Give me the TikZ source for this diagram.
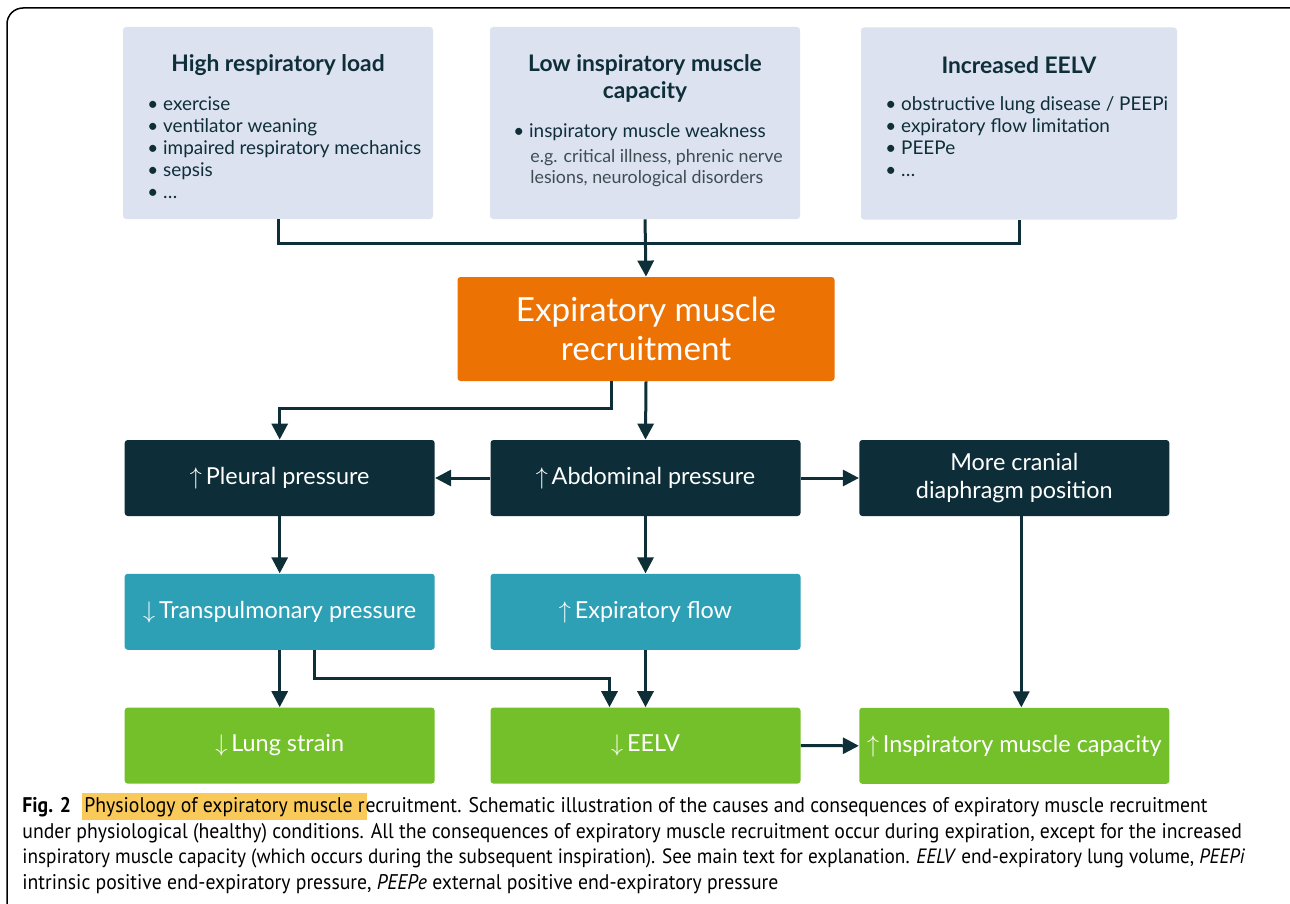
\documentclass[tikz,border=0pt]{standalone}
\usepackage{fontspec}
\setmainfont{Lato}
\newfontfamily\capfont[FakeStretch=0.93]{PT Sans}
\usetikzlibrary{positioning,arrows.meta}
\definecolor{causebg}{HTML}{DCE2F0}
\definecolor{ink}{HTML}{0E2E38}
\definecolor{subink}{HTML}{3E4D54}
\definecolor{emrorange}{HTML}{EC7204}
\definecolor{darkbox}{HTML}{0D2E38}
\definecolor{tealbox}{HTML}{2EA0B6}
\definecolor{greenbox}{HTML}{74C02A}
\definecolor{hlyellow}{HTML}{F9C95A}

\begin{document}
\begin{tikzpicture}[x=0.5pt,y=-0.5pt,
  every node/.style={inner sep=0pt},
  cause/.style={fill=causebg, rounded corners=1.5pt, minimum width=155pt, minimum height=96pt},
  ctitle/.style={text=ink, align=center, font=\fontsize{11.4}{13.5}\selectfont\bfseries},
  clist/.style={text=ink, align=left, anchor=north west, font=\fontsize{9.45}{11}\selectfont},
  csub/.style={text=subink, align=left, anchor=north west, font=\fontsize{8.9}{10.5}\selectfont},
  effect/.style={rounded corners=1.5pt, minimum width=155pt, minimum height=38pt, text=white,
    align=center, font=\fontsize{11.7}{14}\selectfont},
  darkfx/.style={effect, fill=darkbox},
  midfx/.style={effect, fill=tealbox},
  endfx/.style={effect, fill=greenbox},
  link/.style={draw=ink, line width=1.5pt},
  arrow/.style={link, -{Triangle[width=8pt,length=8pt]}},
  captext/.style={anchor=base west, text=black, font=\capfont\fontsize{10.6}{12}\selectfont},
]
\useasboundingbox (0,0) rectangle (1290,904);
\clip (0,0) rectangle (1290,904);
\draw [black, line width=0.75pt, rounded corners=8pt] (7,8) rectangle (1310,918);

\node [cause] (hrl) at (278,123) {};
\node [cause, minimum width=158pt] (eelvup) at (1019,123.5) {};
\node [cause] (lim) at (645,123) {};
\node [ctitle] (hrlt) at (278,65) {High respiratory load};
\node [ctitle] (limt) at (645,78) {Low inspiratory muscle\\capacity};
\node [ctitle] (eelvupt) at (1019,65) {Increased EELV};
\node [clist] (hrll) at (147,96) {\textbullet\ exercise\\\textbullet\ ventilator weaning\\\textbullet\ impaired respiratory mechanics\\\textbullet\ sepsis\\\textbullet\ \dots};
\node [clist] (liml) at (513,123) {\textbullet\ inspiratory muscle weakness};
\node [csub] (limsub) at (530,149) {e.g. critical illness, phrenic nerve\\lesions, neurological disorders};
\node [clist] (eelvupl) at (885,96) {\textbullet\ obstructive lung disease / PEEPi\\\textbullet\ expiratory flow limitation\\\textbullet\ PEEPe\\\textbullet\ \dots};

\node [effect, fill=emrorange, minimum width=188.5pt, minimum height=52pt,
  font=\fontsize{16.6}{19.5}\selectfont] (emr) at (646,329) {Expiratory muscle\\recruitment};

\node [darkfx] (ap) at (645.5,478) {$\uparrow$\,Abdominal pressure};
\node [darkfx, left=27.5pt of ap] (pp) {$\uparrow$\,Pleural pressure};
\node [darkfx, right=29pt of ap] (cdp) {More cranial\\diaphragm position};
\node [midfx, below=28.5pt of pp] (tp) {$\downarrow$\,Transpulmonary pressure};
\node [midfx, below=28.5pt of ap] (ef) {$\uparrow$\,Expiratory flow};
\node [endfx, below=28.5pt of tp] (ls) {$\downarrow$\,Lung strain};
\node [endfx, below=28.5pt of ef] (eelv) {$\downarrow$\,EELV};
\node [endfx, below=95.5pt of cdp] (imc) {$\uparrow$\,Inspiratory muscle capacity};

\coordinate (jn) at (646,243);
\draw [link] (hrl.south) -- (hrl.south |- jn) -- (eelvup.south |- jn) -- (eelvup.south);
\draw [arrow] (lim.south) -- (emr.north);
\draw [arrow] ([xshift=-17.5pt]emr.south) -- ++(0,27) -| (pp.north);
\draw [arrow] (emr.south) -- (ap.north);
\draw [arrow] (ap.west) -- (pp.east);
\draw [arrow] (ap.east) -- (cdp.west);
\draw [arrow] (pp.south) -- (tp.north);
\draw [arrow] (ap.south) -- (ef.north);
\draw [arrow] (tp.south) -- (ls.north);
\draw [arrow] ([xshift=17.5pt]tp.south) -- ++(0,28) -| ([xshift=-18pt]eelv.north);
\draw [arrow] (ef.south) -- (eelv.north);
\draw [arrow] ([xshift=3.5pt]cdp.south) -- ([xshift=3.5pt]imc.north);
\draw [arrow] (eelv.east) -- (imc.west);

\node [captext] (capa) at (22,812) {\textbf{Fig. 2}};
\node [captext, fill=hlyellow, text height=9.5pt, text depth=4pt, inner xsep=1pt] (capb) at (82,812) {Physiology of expiratory muscle r};
\node [captext] (capc) at ([xshift=-1pt]capb.base east) {ecruitment. Schematic illustration of the causes and consequences of expiratory muscle recruitment};
\node [captext] (capd) at (22,838) {under physiological (healthy) conditions. All the consequences of expiratory muscle recruitment occur during expiration, except for the increased};
\node [captext, font=\capfont\fontsize{10.35}{12}\selectfont] (cape) at (22,863) {inspiratory muscle capacity (which occurs during the subsequent inspiration). See main text for explanation. \textit{EELV} end-expiratory lung volume, \textit{PEEPi}};
\node [captext] (capf) at (22,889) {intrinsic positive end-expiratory pressure, \textit{PEEPe} external positive end-expiratory pressure};
\end{tikzpicture}
\end{document}
